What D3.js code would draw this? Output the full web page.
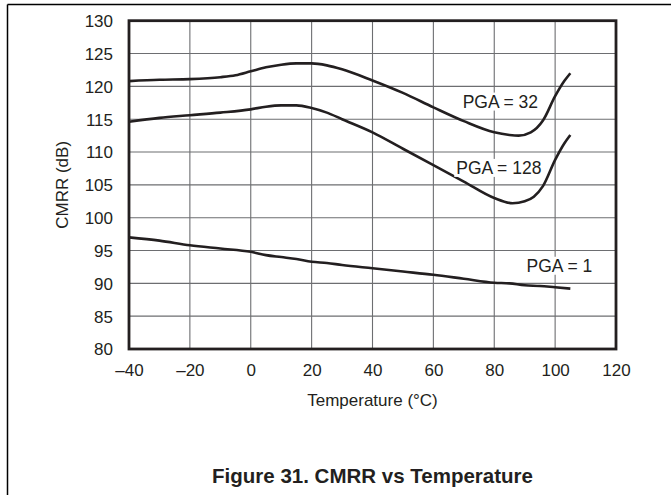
<!DOCTYPE html>
<html>
<head>
<meta charset="utf-8">
<script src="https://cdn.jsdelivr.net/npm/d3@7"></script>
<style>
  html, body { margin: 0; padding: 0; background: #fff; }
  svg { display: block; }
  text { font-family: "Liberation Sans", Arial, sans-serif; fill: #231f20; }
</style>
</head>
<body>
<svg id="chart" width="671" height="495"></svg>
<script>
// ---- data ----
const xTicks = [-40, -20, 0, 20, 40, 60, 80, 100, 120];
const yTicks = [80, 85, 90, 95, 100, 105, 110, 115, 120, 125, 130];

const pga32Temp = [-40, -30, -20, -10, -5, 0, 5, 10, 15, 20, 25, 30, 40, 50, 60, 70, 80, 85, 88, 92, 96, 100, 103, 105];
const pga32Val  = [120.8, 121, 121.1, 121.4, 121.7, 122.3, 122.9, 123.3, 123.5, 123.5, 123.2, 122.6, 120.9, 119, 116.8, 114.7, 113, 112.6, 112.5, 113, 114.8, 118.5, 120.8, 122];

const pga128Temp = [-40, -30, -20, -10, 0, 5, 10, 15, 20, 25, 30, 40, 50, 60, 70, 80, 86, 90, 93, 96, 100, 103, 105];
const pga128Val  = [114.6, 115.2, 115.6, 116, 116.5, 116.9, 117.1, 117.1, 116.7, 116, 115, 113, 110.5, 108, 105.5, 103, 102.2, 102.5, 103.2, 104.8, 108.8, 111.3, 112.6];

const pga1Temp = [-40, -30, -20, -10, 0, 5, 10, 15, 20, 25, 30, 40, 50, 60, 70, 80, 85, 90, 95, 100, 105];
const pga1Val  = [97, 96.5, 95.8, 95.3, 94.8, 94.3, 94, 93.7, 93.3, 93.1, 92.8, 92.3, 91.8, 91.3, 90.7, 90.1, 90, 89.7, 89.6, 89.4, 89.2];

const seriesLabels = ["PGA = 32", "PGA = 128", "PGA = 1"];
const labelAt = [[82, 117.7], [81.5, 107.6], [101.4, 92.7]]; // label centre (temp, dB)

// ---- layout ----
const svg = d3.select("#chart");
const pL = 129, pR = 616, pT = 20.7, pB = 349;
const x = d3.scaleLinear().domain([-40, 120]).range([pL, pR]);
const y = d3.scaleLinear().domain([80, 130]).range([pB, pT]);
const ink = "#231f20";

// outer frame lines
svg.append("line").attr("x1", 7.5).attr("x2", 671).attr("y1", 4.5).attr("y2", 4.5).attr("stroke", "#000").attr("stroke-width", 1.5);
svg.append("line").attr("x1", 7.5).attr("x2", 7.5).attr("y1", 4.5).attr("y2", 495).attr("stroke", "#000").attr("stroke-width", 1.5);

// grid
const grid = svg.append("g");
grid.selectAll(".gx").data(xTicks.slice(1, -1)).enter().append("line")
  .attr("x1", d => x(d)).attr("x2", d => x(d)).attr("y1", pT).attr("y2", pB)
  .attr("stroke", "#6d6e71").attr("stroke-width", 1.1);
grid.selectAll(".gy").data(yTicks.slice(1, -1)).enter().append("line")
  .attr("x1", pL).attr("x2", pR).attr("y1", d => y(d)).attr("y2", d => y(d))
  .attr("stroke", "#6d6e71").attr("stroke-width", 1.1);

// axes tick labels via d3 axes
const xAxis = d3.axisBottom(x).tickValues(xTicks).tickSize(0).tickPadding(0)
  .tickFormat(d => d < 0 ? "\u2013" + Math.abs(d) : d);
const gx = svg.append("g").attr("transform", `translate(0,${pB})`).call(xAxis);
gx.select(".domain").remove();
gx.selectAll("text").attr("dy", null).attr("y", 27).style("font-size", "17px")
  .style("font-family", '"Liberation Sans", Arial, sans-serif').attr("fill", ink);

const yAxis = d3.axisLeft(y).tickValues(yTicks).tickSize(0).tickPadding(16);
const gy = svg.append("g").attr("transform", `translate(${pL},0)`).call(yAxis);
gy.select(".domain").remove();
gy.selectAll("text").attr("dy", "0.35em").style("font-size", "17px")
  .style("font-family", '"Liberation Sans", Arial, sans-serif').attr("fill", ink);

// curves
const line = d3.line().x(d => x(d[0])).y(d => y(d[1])).curve(d3.curveMonotoneX);
const series = [
  d3.zip(pga32Temp, pga32Val),
  d3.zip(pga128Temp, pga128Val),
  d3.zip(pga1Temp, pga1Val)
];
svg.append("g").selectAll("path").data(series).enter().append("path")
  .attr("d", line).attr("fill", "none").attr("stroke", ink).attr("stroke-width", 2.6)
  .attr("stroke-linejoin", "round");

// series labels with white background
seriesLabels.forEach((s, i) => {
  const g = svg.append("g");
  const t = g.append("text").attr("x", x(labelAt[i][0])).attr("y", y(labelAt[i][1]))
    .attr("text-anchor", "middle").attr("dy", "0.35em").style("font-size", "17.5px").text(s);
  const bb = t.node().getBBox();
  g.insert("rect", "text").attr("x", bb.x - 2).attr("y", bb.y + 1).attr("width", bb.width + 4).attr("height", bb.height - 2).attr("fill", "#fff");
});

// plot border
svg.append("rect").attr("x", pL).attr("y", pT).attr("width", pR - pL).attr("height", pB - pT)
  .attr("fill", "none").attr("stroke", ink).attr("stroke-width", 2.8);

// axis titles
svg.append("text").attr("x", (pL + pR) / 2).attr("y", 406).attr("text-anchor", "middle")
  .style("font-size", "17px").text("Temperature (°C)");
svg.append("text").attr("transform", `translate(68,${(pT + pB) / 2}) rotate(-90)`)
  .attr("text-anchor", "middle").style("font-size", "17px").text("CMRR (dB)");

// figure caption
svg.append("text").attr("x", (pL + pR) / 2).attr("y", 483).attr("text-anchor", "middle")
  .style("font-size", "20.5px").style("font-weight", "bold").attr("fill", "#000").text("Figure 31. CMRR vs Temperature");
</script>
</body>
</html>
